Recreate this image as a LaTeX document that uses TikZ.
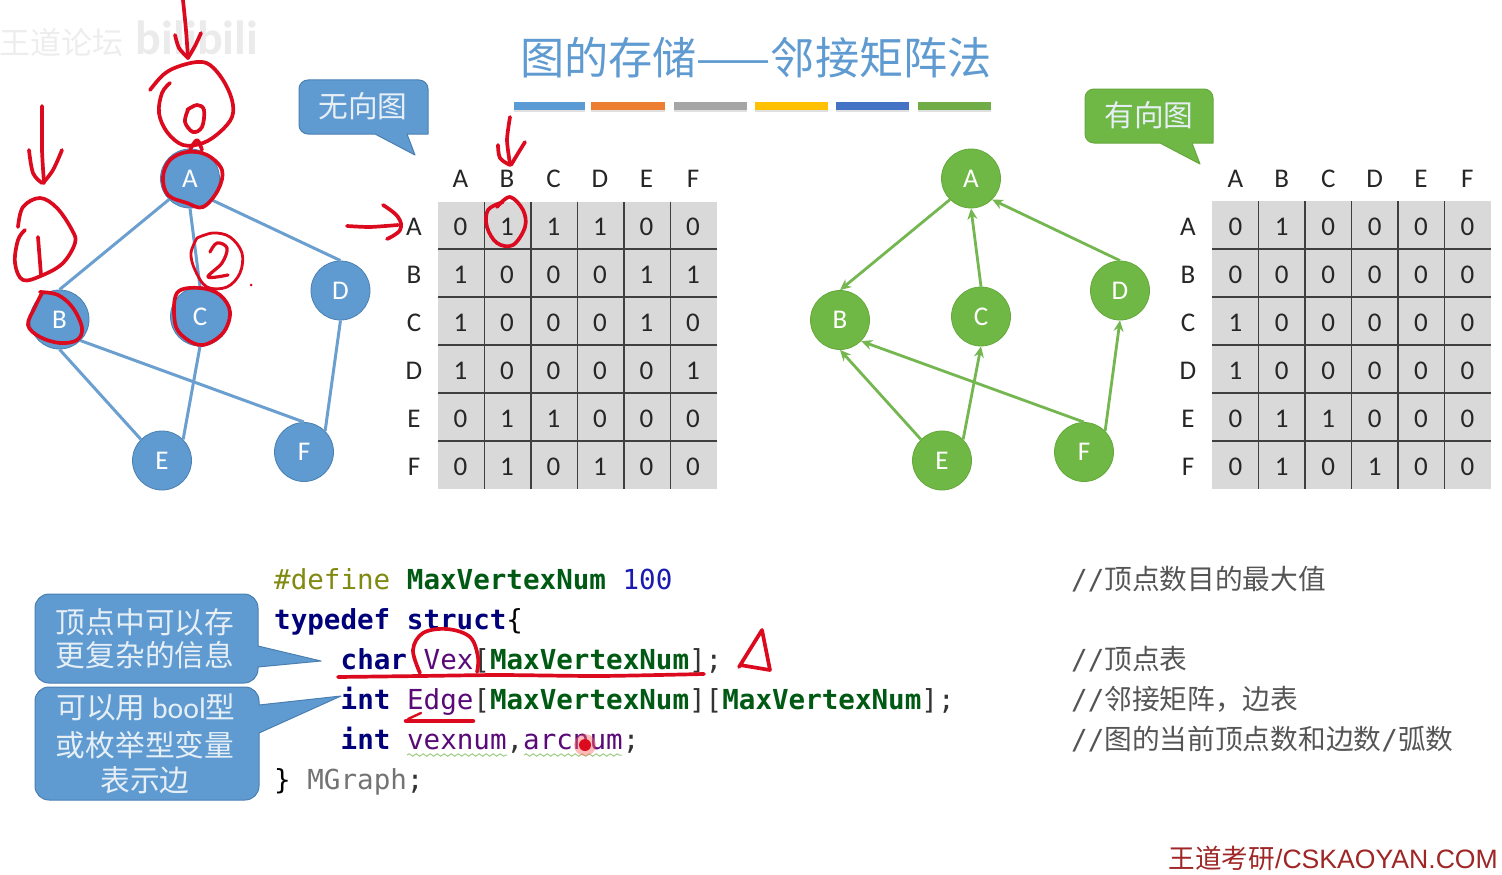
\documentclass[tikz,border=0pt]{standalone}
\usepackage{fontspec}
\setmainfont{Carlito}
\setmonofont{DejaVu Sans Mono}
\newfontfamily\cjk{Noto Sans CJK SC}
\newfontfamily\foot{Liberation Sans}
\newfontfamily\latn{Carlito}
\usetikzlibrary{arrows.meta,decorations.pathmorphing}
\definecolor{bfill}{HTML}{5F9BD1}
\definecolor{bline}{HTML}{4A7FB0}
\definecolor{bedge}{HTML}{6A9FCF}
\definecolor{gfill}{HTML}{70B845}
\definecolor{gline}{HTML}{64A83C}
\definecolor{gedge}{HTML}{74B650}
\definecolor{pen}{HTML}{DC0A1E}
\definecolor{cell}{HTML}{D9D9D9}
\definecolor{gridc}{HTML}{3F3F3F}
\definecolor{kw}{HTML}{00007A}
\definecolor{macro}{HTML}{005A14}
\definecolor{prep}{HTML}{808A10}
\definecolor{num}{HTML}{1A1AB0}
\definecolor{var}{HTML}{5A0A78}
\definecolor{cmt}{HTML}{555555}
\definecolor{calltext}{HTML}{E6EEF6}
\tikzset{
  x=1pt,y=-1pt,
  vb/.style={circle,draw=bline,fill=bfill,line width=.8pt,minimum size=59pt,inner sep=0pt,text=white,font=\fontsize{27}{27}\selectfont},
  vg/.style={circle,draw=gline,fill=gfill,line width=.8pt,minimum size=59pt,inner sep=0pt,text=white,font=\fontsize{27}{27}\selectfont},
  eb/.style={draw=bedge,line width=3pt},
  eg/.style={draw=gedge,line width=2.8pt,-{Stealth[length=11pt,width=10pt]}},
  hand/.style={draw=pen,line width=3.7pt,line cap=round,line join=round},
  label/.style={font=\fontsize{27}{27}\selectfont,text=black!85,inner sep=0pt},
  bar/.style={line width=8pt},
  call/.style={line width=1pt,line join=round},
  calltxt/.style={font=\cjk\fontsize{29.7}{30}\selectfont,text=calltext,inner sep=0pt},
  codeln/.style={anchor=base west,inner sep=0pt,font=\ttfamily\fontsize{27.56}{28}\selectfont},
  cmtln/.style={anchor=base west,inner sep=0pt,text=cmt,font=\fontsize{27.6}{28}\selectfont},
  squig/.style={draw=gedge!70,line width=1pt,decorate,decoration={snake,amplitude=1.2pt,segment length=7pt}},
}
\newcommand{\cn}[1]{{\cjk\fontsize{27.7}{28}\selectfont #1}}
\begin{document}
\begin{tikzpicture}
\useasboundingbox (0,0) rectangle (1502,875);
% watermark
\node[font=\cjk\fontsize{31}{31}\selectfont,text=black!7,inner sep=0pt] (wm1) at (61,43) {王道论坛};
\node[font=\bfseries\fontsize{48}{48}\selectfont,text=black!8,inner sep=0pt] (wm2) at (197,38) {bilibili};
% title
\node[font=\cjk\fontsize{44.2}{45}\selectfont,text=bfill,inner sep=0pt] (title) at (756,58) {图的存储——邻接矩阵法};
\foreach \a/\b/\c in {514/585/5B9BD5,591/665/ED7D31,674/747/A5A5A5,755/828/FFC000,836/909/4472C4,918/991/70AD47}{
  \definecolor{barc}{HTML}{\c}
  \draw[bar,black!12] (\a,108) -- (\b,108);
  \draw[bar,barc] (\a,105.5) -- (\b,105.5);
}
% callouts
\draw[call,draw=bline,fill=bfill] (428,134) [rounded corners=9pt] -- (428,80) -- (299,80) -- (299,134) [sharp corners] -- (375,134) -- (415,155) -- (407,134) -- cycle;
\node[calltxt] (cu) at (363,106) {无向图};
\draw[call,draw=gline,fill=gfill] (1213,143) [rounded corners=9pt] -- (1213,89) -- (1085,89) -- (1085,143) [sharp corners] -- (1160,143) -- (1200,164) -- (1192,143) -- cycle;
\node[calltxt] (cd) at (1149,115) {有向图};
\draw[call,draw=bline,fill=bfill] (258,667) [rounded corners=14pt] -- (258,683) -- (35,683) -- (35,594) -- (258,594) [sharp corners] -- (258,646) -- (321,661) -- cycle;
\node[calltxt] (c1a) at (145,622) {顶点中可以存};
\node[calltxt] (c1b) at (145,655) {更复杂的信息};
\draw[call,draw=bline,fill=bfill] (259,733) [rounded corners=14pt] -- (259,800) -- (35,800) -- (35,687) -- (259,687) [sharp corners] -- (259,705) -- (341,696) -- cycle;
\node[calltxt] (c2a) at (146,707) {可以用 {\latn bool}型};
\node[calltxt] (c2b) at (145,745) {或枚举型变量};
\node[calltxt] (c2c) at (145,780) {表示边};
% undirected graph
\node[vb] (A) at (190,178.5) {A};
\node[vb] (B) at (59.5,319.5) {B};
\node[vb] (C) at (200,316.5) {C};
\node[vb] (D) at (340.5,290.5) {D};
\node[vb] (E) at (162,460.5) {E};
\node[vb] (F) at (304,452) {F};
\draw[eb] (A.south west)--(B.north); \draw[eb] (A.south)--(C.north); \draw[eb] (A.south east)--(D.north);
\draw[eb] (B.south)--(E.north west); \draw[eb] (B.south east)--(F.north); \draw[eb] (C.south)--(E.north east); \draw[eb] (D.south)--(F.north east);
% directed graph
\node[vg] (GA) at (971,178.5) {A};
\node[vg] (GB) at (840,320) {B};
\node[vg] (GC) at (981,316.5) {C};
\node[vg] (GD) at (1120,290.5) {D};
\node[vg] (GE) at (942,460.5) {E};
\node[vg] (GF) at (1084,452) {F};
\draw[eg] (GA.south west)--(GB.north); \draw[eg] (GC.north)--(GA.south); \draw[eg] (GD.north)--(GA.south east);
\draw[eg] (GE.north west)--(GB.south); \draw[eg] (GF.north)--(GB.south east); \draw[eg] (GE.north east)--(GC.south); \draw[eg] (GF.north east)--(GD.south);
% matrices
\fill[cell] (438,202) rectangle (717,489);
\fill[cell] (1212,201) rectangle (1491,489);
\foreach \k in {1,...,5}{
  \draw[gridc,line width=1.3pt] ({438+\k*46.5},202) -- ({438+\k*46.5},489);
  \draw[gridc,line width=1.3pt] (438,{201+\k*48}) -- (717,{201+\k*48});
  \draw[gridc,line width=1.3pt] ({1212+\k*46.5},201) -- ({1212+\k*46.5},489);
  \draw[gridc,line width=1.3pt] (1212,{201+\k*48}) -- (1491,{201+\k*48});
}
\foreach \n [count=\j] in {A,B,C,D,E,F}{
  \node[label] (lt\n) at ({414+\j*46.5},179) {\n};
  \node[label] (ll\n) at (414,{179+\j*48}) {\n};
  \node[label] (rt\n) at ({1189+\j*46.4},178.5) {\n};
  \node[label] (rl\n) at (1188,{178.5+\j*48}) {\n};
}
\foreach \r [count=\i] in {{0,1,1,1,0,0},{1,0,0,0,1,1},{1,0,0,0,1,0},{1,0,0,0,0,1},{0,1,1,0,0,0},{0,1,0,1,0,0}}{
  \foreach \v [count=\j] in \r {
    \node[label] (m\i-\j) at ({414+\j*46.5},{179+\i*48}) {\v};
  }
}
\foreach \r [count=\i] in {{0,1,0,0,0,0},{0,0,0,0,0,0},{1,0,0,0,0,0},{1,0,0,0,0,0},{0,1,1,0,0,0},{0,1,0,1,0,0}}{
  \foreach \v [count=\j] in \r {
    \node[label] (n\i-\j) at ({1189+\j*46.4},{178.5+\i*48}) {\v};
  }
}
% code
\node[codeln] (l1) at (274,589) {\textcolor{prep}{\#define} \textcolor{macro}{\bfseries MaxVertexNum} \textcolor{num}{100}};
\node[codeln] (l2) at (274,629) {\textcolor{kw}{\bfseries typedef struct}\textcolor{black}{\{}};
\node[codeln] (l3) at (340.5,669) {\textcolor{kw}{\bfseries char} \textcolor{var}{Vex}\textcolor{black!80}{[}\textcolor{macro}{\bfseries MaxVertexNum}\textcolor{black!80}{];}};
\node[codeln] (l4) at (340.5,709) {\textcolor{kw}{\bfseries int} \textcolor{var}{Edge}\textcolor{black!80}{[}\textcolor{macro}{\bfseries MaxVertexNum}\textcolor{black!80}{][}\textcolor{macro}{\bfseries MaxVertexNum}\textcolor{black!80}{];}};
\node[codeln] (l5) at (340.5,749) {\textcolor{kw}{\bfseries int} \textcolor{var}{vexnum}\textcolor{black!80}{,}\textcolor{var}{arcnum}\textcolor{black!80}{;}};
\node[codeln] (l6) at (274,789) {\textcolor{black}{\}} \textcolor{black!55}{MGraph}\textcolor{black!80}{;}};
\draw[squig] (407,755) -- (507,755);
\draw[squig] (524,755) -- (622,755);
% comments
\node[cmtln] (k1) at (1071,589.5) {\ttfamily //\cn{顶点数目的最大值}};
\node[cmtln] (k2) at (1071,669.5) {\ttfamily //\cn{顶点表}};
\node[cmtln] (k3) at (1071,709.5) {\ttfamily //\cn{邻接矩阵，边表}};
\node[cmtln] (k4) at (1071,749.5) {\ttfamily //\cn{图的当前顶点数和边数}/\cn{弧数}};
% footer
\node[anchor=east,inner sep=0pt,text=red!55!black!85,font=\foot\fontsize{26.6}{27}\selectfont] (foot) at (1498,858) {{\cjk 王道考研}/CSKAOYAN.COM};
% handwriting
\draw[hand] plot[smooth,tension=.5] coordinates {(183,0)(186,30)(188,58)};
\draw[hand] plot[smooth,tension=.5] coordinates {(175,35)(179,48)(188,58)};
\draw[hand] plot[smooth,tension=.5] coordinates {(201,33)(195,46)(188,58)};
\draw[hand] plot[smooth,tension=.6] coordinates {(150,90)(163,75)(177,67)(197,62)(210,65)(223,80)(232,100)(232,117)(220,132)(203,143)(183,145)(167,132)(159,113)(162,93)(170,83)};
\draw[hand] plot[smooth,tension=.6] coordinates {(187,110)(197,105)(204,110)(202,127)(193,132)(185,122)(188,110)};
\draw[hand] plot[smooth,tension=.6] coordinates {(190,150)(197,140)(202,150)};
\draw[hand] plot[smooth cycle,tension=.6] coordinates {(163,177)(170,160)(187,152)(207,155)(222,170)(218,190)(203,207)(187,203)(168,195)};
\draw[hand] plot[smooth,tension=.4] coordinates {(42,106)(42,150)(44,183)};
\draw[hand] plot[smooth,tension=.6] coordinates {(29,150)(33,173)(42,183)};
\draw[hand] plot[smooth,tension=.6] coordinates {(62,150)(53,170)(43,183)};
\draw[hand] plot[smooth,tension=.6] coordinates {(18,227)(23,207)(40,198)(57,208)(72,230)(75,243)(63,263)(43,275)(23,280)(15,263)(18,240)(25,230)};
\draw[hand] (38,237) -- (41,275);
\draw[hand] plot[smooth,tension=.6] coordinates {(40,292)(58,295)(73,308)(82,328)(77,340)(60,343)(40,337)(28,325)(35,307)(42,293)};
\draw[hand,line width=2.8pt] plot[smooth,tension=.6] coordinates {(197,238)(213,233)(230,237)(242,253)(240,273)(227,287)(207,287)(195,270)(191,253)(197,238)};
\draw[hand,line width=3.2pt] plot[smooth,tension=.6] coordinates {(210,252)(217,243)(227,248)(222,263)(208,277)(228,275)};
\fill[pen] (251,285) circle (1.5pt);
\draw[hand] plot[smooth cycle,tension=.6] coordinates {(177,293)(200,288)(220,295)(230,312)(223,333)(203,345)(185,338)(175,323)};
\draw[hand] plot[smooth,tension=.4] coordinates {(347,226)(370,227)(398,225)};
\draw[hand] plot[smooth,tension=.7] coordinates {(383,205)(398,217)(400,230)(387,239)};
\draw[hand] plot[smooth,tension=.4] coordinates {(510,117)(507,140)(510,164)};
\draw[hand] plot[smooth,tension=.6] coordinates {(498,145)(500,158)(510,165)};
\draw[hand] plot[smooth,tension=.6] coordinates {(525,142)(517,155)(511,165)};
\draw[hand] plot[smooth,tension=.6] coordinates {(497,207)(510,197)(523,210)(525,227)(513,245)(497,243)(487,227)(488,210)(503,202)};
\draw[hand] plot[smooth,tension=.4] coordinates {(338,677)(420,676)(500,675)(600,676)(704,674)};
\draw[hand] plot[smooth,tension=.6] coordinates {(420,673)(413,650)(423,633)(447,629)(470,637)(478,657)(477,672)};
\draw[hand] (739,667) -- (762,630) -- (770,670) -- (740,665);
\draw[hand,line width=4.5pt] (406,721) -- (473,721);
\draw[hand,line width=2.4pt] (408,719) -- (421,713);
\fill[red!60!white,opacity=.45] (585,745) circle (11pt);
\fill[pen] (585,745) circle (6pt);
\end{tikzpicture}
\end{document}
